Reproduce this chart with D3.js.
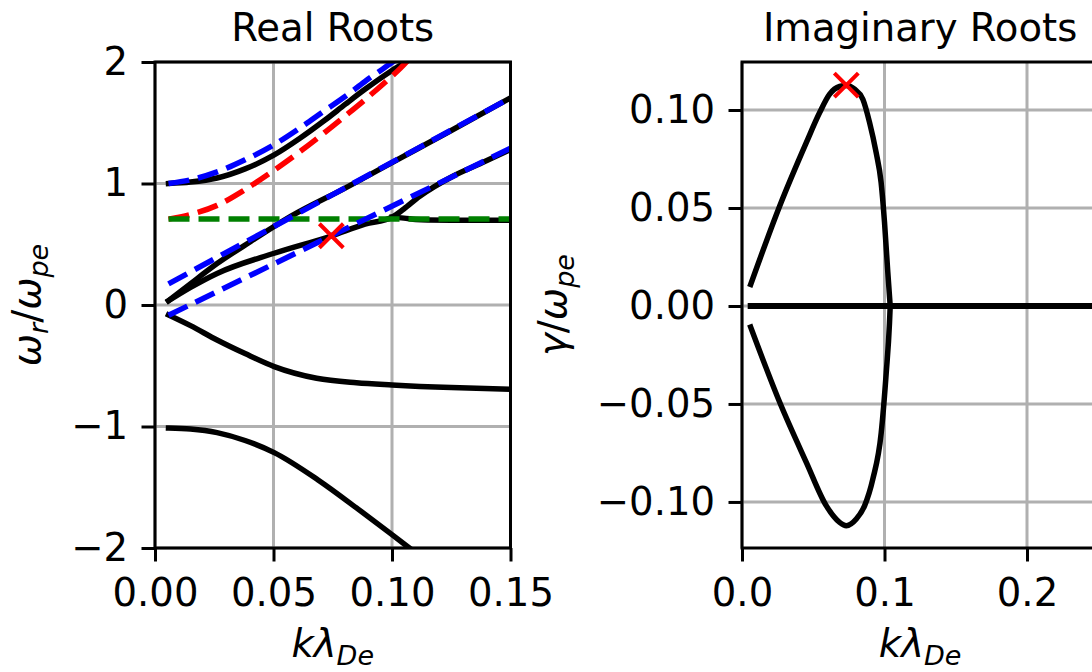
<!DOCTYPE html>
<html>
<head>
<meta charset="utf-8">
<script src="https://cdn.jsdelivr.net/npm/d3@7"></script>
<style>
  html, body { margin: 0; padding: 0; background: #fff; }
  svg { display: block; font-family: "DejaVu Sans", sans-serif; }
</style>
</head>
<body>
<div id="chart"></div>
<script>
// ---- values ----
const realXTicks = [0, 0.05, 0.10, 0.15];
const realYTicks = [-2, -1, 0, 1, 2];
const imagXTicks = [0, 0.1, 0.2];
const imagYTicks = [-0.10, -0.05, 0, 0.05, 0.10];

// real part: solid black root branches
const topK    = [0.0057, 0.015, 0.0262, 0.038, 0.0503, 0.061, 0.0716, 0.0805, 0.0886, 0.0992, 0.1057, 0.108];
const topW    = [1.0, 1.012, 1.045, 1.12, 1.235, 1.37, 1.52, 1.655, 1.775, 1.92, 2.0, 2.03];
const beamK   = [0.0057, 0.0149, 0.0262, 0.0404, 0.0574, 0.08, 0.1, 0.125, 0.15];
const beamW   = [0.035, 0.174, 0.341, 0.523, 0.731, 0.96, 1.172, 1.436, 1.705];
const lowK    = [0.0057, 0.015, 0.0262, 0.0503, 0.0744, 0.0886, 0.1, 0.105, 0.1117, 0.1257, 0.138, 0.15];
const lowW    = [0.035, 0.145, 0.26, 0.426, 0.568, 0.665, 0.722, 0.79, 0.895, 1.06, 1.17, 1.28];
const flatK   = [0.1, 0.105, 0.11, 0.115, 0.125, 0.15];
const flatW   = [0.722, 0.715, 0.703, 0.699, 0.698, 0.698];
const negK    = [0.0057, 0.015, 0.0262, 0.038, 0.0503, 0.0682, 0.085, 0.1, 0.125, 0.15];
const negW    = [-0.082, -0.17, -0.288, -0.40, -0.507, -0.603, -0.64, -0.658, -0.68, -0.694];
const bottomK = [0.0057, 0.015, 0.0262, 0.038, 0.0503, 0.0688, 0.0857, 0.1, 0.108];
const bottomW = [-1.012, -1.02, -1.05, -1.115, -1.215, -1.44, -1.68, -1.89, -2.01];

// real part: dashed reference curves
const blueCurveK = [0.0057, 0.015, 0.0262, 0.038, 0.0503, 0.061, 0.0716, 0.0805, 0.0886, 0.0992, 0.101];
const blueCurveW = [1.0, 1.03, 1.095, 1.195, 1.32, 1.455, 1.6, 1.72, 1.84, 1.985, 2.01];
const redCurveK  = [0.0057, 0.015, 0.0262, 0.038, 0.0503, 0.061, 0.0716, 0.0805, 0.0886, 0.0992, 0.1036, 0.107];
const redCurveW  = [0.707, 0.745, 0.82, 0.95, 1.11, 1.26, 1.42, 1.56, 1.69, 1.87, 1.95, 2.02];
const greenK     = [0.0057, 0.15];
const greenW     = [0.707, 0.707];
const blueLineAK = [0.0057, 0.15];
const blueLineAW = [0.174, 1.705];
const blueLineBK = [0.0057, 0.15];
const blueLineBW = [-0.085, 1.29];

// imaginary part
const growK  = [0.0061, 0.0266, 0.0452, 0.0545, 0.0615, 0.0685, 0.0732, 0.079, 0.0848, 0.0895, 0.0941, 0.0976, 0.1, 0.1023, 0.104];
const growG  = [0.011, 0.0513, 0.0835, 0.0987, 0.1081, 0.112, 0.1125, 0.1106, 0.1055, 0.0937, 0.0784, 0.0632, 0.0428, 0.0174, 0.0];
const dampK  = [0.0061, 0.0266, 0.0452, 0.0592, 0.0685, 0.0732, 0.0802, 0.086, 0.0918, 0.0977, 0.1012, 0.1035, 0.104];
const dampG  = [-0.0108, -0.0494, -0.0799, -0.102, -0.1104, -0.1121, -0.1087, -0.102, -0.0884, -0.0647, -0.0342, -0.0088, 0];
const zeroK  = [0.0061, 0.25];
const zeroG  = [0, 0];

// red crosses (max growth)
const realMark = [0.0744, 0.57];
const imagMark = [0.0732, 0.1127];

// ---- drawing ----
const W = 1092, H = 672, FONT = 38.6;
const axTop = 62, axBottom = 548;

const svg = d3.select("#chart").append("svg")
  .attr("width", W)
  .attr("height", H);
svg.append("rect").attr("width", W).attr("height", H).attr("fill", "#fff");

const minus = s => s.replace("-", "\u2212");

// write mathtext-like label with italic parts and subscripts
function mathText(text, parts) {
  let shift = 0;
  parts.forEach(p => {
    const want = p.sub ? 7.5 : 0;
    const t = text.append("tspan").text(p.t).attr("dy", want - shift);
    shift = want;
    if (p.it) t.attr("font-style", "italic");
    if (p.sub) t.attr("font-size", FONT * 0.7);
  });
}

function panel(cfg) {
  const { x, y } = cfg;
  const [x0, x1] = x.range();
  const g = svg.append("g");

  g.append("clipPath").attr("id", cfg.id)
    .append("rect")
      .attr("x", x0).attr("y", axTop)
      .attr("width", x1 - x0).attr("height", axBottom - axTop);

  // grid
  g.append("g").selectAll("line").data(cfg.xTicks).join("line")
    .attr("x1", d => x(d)).attr("x2", d => x(d))
    .attr("y1", axTop).attr("y2", axBottom)
    .attr("stroke", "#b0b0b0").attr("stroke-width", 3);
  g.append("g").selectAll("line").data(cfg.yTicks).join("line")
    .attr("x1", x0).attr("x2", x1)
    .attr("y1", d => y(d)).attr("y2", d => y(d))
    .attr("stroke", "#b0b0b0").attr("stroke-width", 3);

  // series
  const line = d3.line().x(d => x(d[0])).y(d => y(d[1])).curve(d3.curveMonotoneX);
  const plot = g.append("g").attr("clip-path", `url(#${cfg.id})`);
  cfg.series.forEach(s => {
    const pts = s.k.map((k, i) => [k, s.v[i]]);
    plot.append("path")
      .attr("d", line(pts))
      .attr("fill", "none")
      .attr("stroke", s.color)
      .attr("stroke-width", s.width || 5.5)
      .attr("stroke-dasharray", s.dash ? "21,9" : null)
      .attr("stroke-linecap", s.dash ? "butt" : "square")
      .attr("stroke-linejoin", "round");
  });

  // red cross marker
  g.append("path")
    .attr("transform", `translate(${x(cfg.mark[0])},${y(cfg.mark[1])})`)
    .attr("d", "M-12,-12L12,12M-12,12L12,-12")
    .attr("stroke", "red").attr("stroke-width", 4);

  // axes
  g.append("g")
    .attr("transform", `translate(0,${axBottom})`)
    .call(d3.axisBottom(x).tickValues(cfg.xTicks).tickSize(13.5).tickPadding(17).tickFormat(cfg.xFmt))
    .call(a => a.select(".domain").remove())
    .call(a => a.selectAll("line").attr("stroke", "#000").attr("stroke-width", 3))
    .call(a => a.selectAll("text").attr("font-size", FONT).attr("font-family", "DejaVu Sans").attr("fill", "#000"));
  g.append("g")
    .attr("transform", `translate(${x0},0)`)
    .call(d3.axisLeft(y).tickValues(cfg.yTicks).tickSize(13.5).tickPadding(13.5).tickFormat(cfg.yFmt))
    .call(a => a.select(".domain").remove())
    .call(a => a.selectAll("line").attr("stroke", "#000").attr("stroke-width", 3))
    .call(a => a.selectAll("text").attr("font-size", FONT).attr("font-family", "DejaVu Sans").attr("fill", "#000"));

  // spines
  g.append("rect")
    .attr("x", x0).attr("y", axTop)
    .attr("width", x1 - x0).attr("height", axBottom - axTop)
    .attr("fill", "none").attr("stroke", "#000").attr("stroke-width", 3);

  const cx = (x0 + x1) / 2;
  g.append("text")
    .attr("x", cx).attr("y", 41)
    .attr("text-anchor", "middle").attr("font-size", FONT)
    .text(cfg.title);

  const xl = g.append("text")
    .attr("x", cx).attr("y", 657)
    .attr("text-anchor", "middle").attr("font-size", FONT);
  mathText(xl, [{ t: "kλ", it: true }, { t: "De", it: true, sub: true }]);

  const yl = g.append("text")
    .attr("transform", `translate(${cfg.ylabelX},${(axTop + axBottom) / 2}) rotate(-90)`)
    .attr("text-anchor", "middle").attr("font-size", FONT);
  mathText(yl, cfg.ylabel);
}

// Real Roots
const xReal = d3.scaleLinear().domain([0, 0.15]).range([155, 510.5]);
const yReal = d3.scaleLinear().domain([-2, 2]).range([axBottom, axTop]);
panel({
  id: "clip-real", x: xReal, y: yReal,
  xTicks: realXTicks, yTicks: realYTicks,
  xFmt: d3.format(".2f"), yFmt: d => minus(d3.format("d")(d)),
  title: "Real Roots",
  ylabelX: 40,
  ylabel: [{ t: "ω", it: true }, { t: "r", it: true, sub: true }, { t: "/" }, { t: "ω", it: true }, { t: "pe", it: true, sub: true }],
  mark: realMark,
  series: [
    { k: topK, v: topW, color: "#000" },
    { k: beamK, v: beamW, color: "#000" },
    { k: lowK, v: lowW, color: "#000" },
    { k: flatK, v: flatW, color: "#000" },
    { k: negK, v: negW, color: "#000" },
    { k: bottomK, v: bottomW, color: "#000" },
    { k: blueCurveK, v: blueCurveW, color: "#0000ff", dash: true },
    { k: redCurveK, v: redCurveW, color: "#ff0000", dash: true },
    { k: greenK, v: greenW, color: "#008000", dash: true },
    { k: blueLineAK, v: blueLineAW, color: "#0000ff", dash: true },
    { k: blueLineBK, v: blueLineBW, color: "#0000ff", dash: true }
  ]
});

// Imaginary Roots (right part is cropped by the picture edge)
const xImag = d3.scaleLinear().domain([0, 0.25]).range([742, 1098.25]);
const yImag = d3.scaleLinear().domain([-0.1235, 0.1245]).range([axBottom, axTop]);
panel({
  id: "clip-imag", x: xImag, y: yImag,
  xTicks: imagXTicks, yTicks: imagYTicks,
  xFmt: d3.format(".1f"), yFmt: d => minus(d3.format(".2f")(d)),
  title: "Imaginary Roots",
  ylabelX: 566,
  ylabel: [{ t: "γ", it: true }, { t: "/" }, { t: "ω", it: true }, { t: "pe", it: true, sub: true }],
  mark: imagMark,
  series: [
    { k: zeroK, v: zeroG, color: "#000", width: 6 },
    { k: growK, v: growG, color: "#000" },
    { k: dampK, v: dampG, color: "#000" }
  ]
});
</script>
</body>
</html>
